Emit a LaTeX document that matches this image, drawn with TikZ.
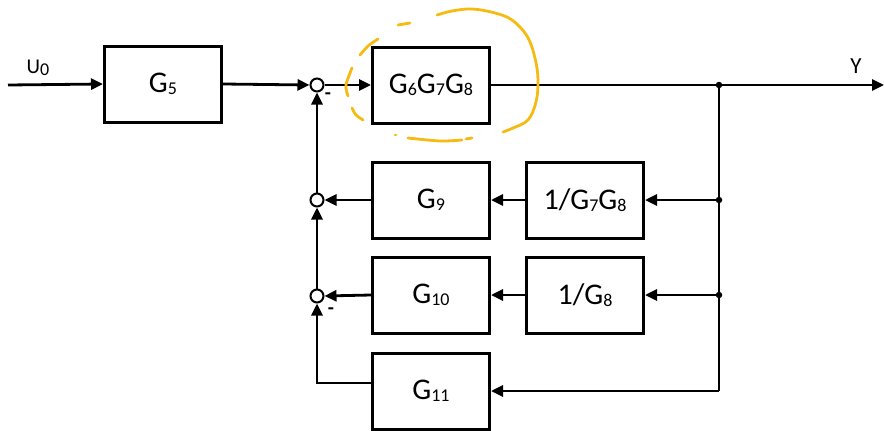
\documentclass[tikz,border=0pt]{standalone}
\usepackage{fontspec}
\setmainfont{Carlito}
\usetikzlibrary{arrows.meta}
\definecolor{hl}{HTML}{F6BB12}
\newcommand{\sbs}[1]{\raisebox{-1.5pt}{\fontsize{18}{18}\selectfont #1}}
\begin{document}
\begin{tikzpicture}[x=1pt,y=-1pt,
  blk/.style={draw, line width=3pt, minimum width=117pt, minimum height=76pt, inner sep=0pt, font=\fontsize{30}{30}\selectfont},
  sumj/.style={circle, draw, fill=white, line width=2pt, minimum size=13pt, inner sep=0pt},
  wire/.style={line width=2.8pt},
  arr/.style={wire, -{Triangle[length=12pt,width=11pt]}},
  dotj/.style={circle, fill=black, minimum size=6.5pt, inner sep=0pt},
  hand/.style={hl, line width=2.8pt, line cap=round, line join=round}]
\useasboundingbox (0,0) rectangle (884,431);
% blocks
\node[blk] (g5) at (163,84) {G\sbs{5}};
\node[blk] (g678) at (431,85) {G\sbs{6}G\sbs{7}G\sbs{8}};
\node[blk] (g9) at (431,200) {G\sbs{9}};
\node[blk] (g10) at (431,295) {G\sbs{10}};
\node[blk] (g11) at (431,391) {G\sbs{11}};
\node[blk] (h1) at (585,200) {1/G\sbs{7}G\sbs{8}};
\node[blk] (h2) at (585,295) {1/G\sbs{8}};
% sums
\node[sumj] (s1) at (317,85) {};
\node[sumj] (s2) at (317,200) {};
\node[sumj] (s3) at (317,296) {};
% coordinates
\coordinate (in) at (8,85);
\coordinate (out) at (884,85);
\coordinate (b0) at (719,85);
\coordinate (b1) at (719,200);
\coordinate (b2) at (719,295);
\coordinate (b3) at (719,391);
\coordinate (c11) at (317,383);
\node[dotj] (d0) at (b0) {};
\node[dotj] (d1) at (b1) {};
\node[dotj] (d2) at (b2) {};
% labels
\node[font=\fontsize{21}{21}\selectfont, inner sep=0pt] (u0) at (38,68) {U\sbs{0}};
\node[font=\fontsize{23}{23}\selectfont, inner sep=0pt] (ylab) at (856,66) {Y};
\node[font=\fontsize{20}{20}\selectfont\bfseries, inner sep=0pt] (m1) at (328,96) {-};
\node[font=\fontsize{20}{20}\selectfont\bfseries, inner sep=0pt] (m3) at (331,311) {-};
% forward path
\draw[arr] (in) -- (g5.west);
\draw[arr] (g5.east) -- (s1.west);
\draw[arr] (s1.east) -- (g678.west);
\draw[arr] (g678.east) -- (out);
% branches
\draw[wire] (b0) -- (b3);
\draw[arr] (b3) -- (g11.east);
\draw[arr] (b1) -- (h1.east);
\draw[arr] (b2) -- (h2.east);
\draw[arr] (h1.west) -- (g9.east);
\draw[arr] (h2.west) -- (g10.east);
\draw[arr] (g9.west) -- (s2.east);
\draw[arr] (g10.west) -- (s3.east);
\draw[arr] (s2.north) -- (s1.south);
\draw[arr] (s3.north) -- (s2.south);
\draw[arr] (g11.west |- c11) -- (c11) -- (s3.south);
% hand-drawn highlight
\draw[hand] plot[smooth, tension=0.6] coordinates {(437,15) (452,11) (472,9) (495,13) (512,20) (527,36) (535,58) (538,80) (536,102) (528,120) (513,128) (503,132)};
\draw[hand] (398,25) -- (410,23);
\draw[hand] plot[smooth] coordinates {(378,39) (368,46) (360,55)};
\draw[hand] plot[smooth] coordinates {(352,68) (346,85) (348,96)};
\draw[hand] plot[smooth] coordinates {(352,108) (356,115) (363,120)};
\draw[hand] (395,135) -- (396,135);
\draw[hand] plot[smooth] coordinates {(408,138) (440,141) (462,140)};
\draw[hand] (466,139) -- (472,138);
\end{tikzpicture}
\end{document}
